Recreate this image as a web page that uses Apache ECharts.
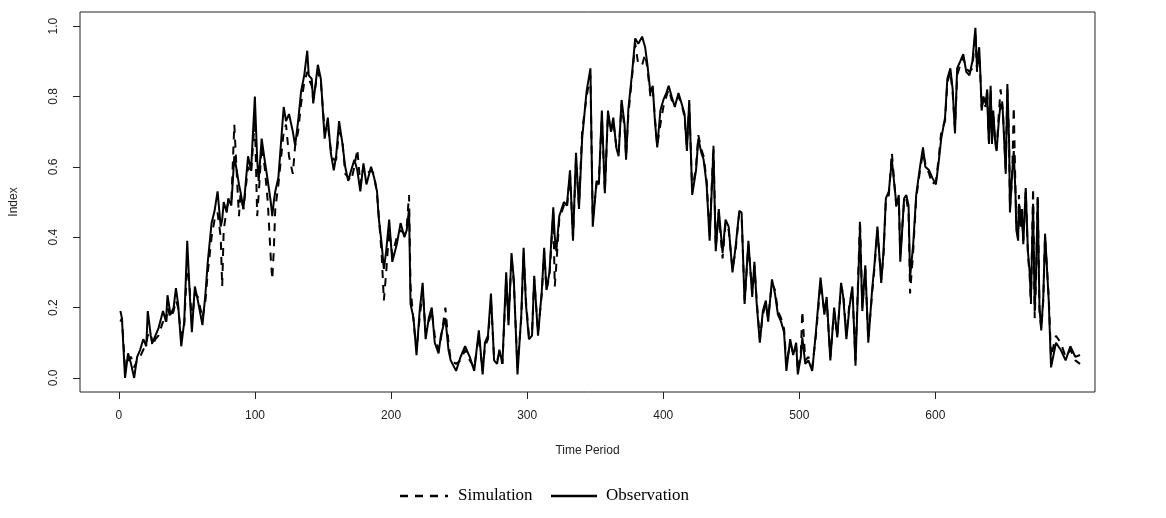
<!DOCTYPE html>
<html>
<head>
<meta charset="utf-8">
<title>Simulation vs Observation</title>
<script src="https://cdn.jsdelivr.net/npm/echarts@6/dist/echarts.min.js"></script>
<style>
  html, body { margin: 0; padding: 0; background: #fff; }
  #chart { width: 1166px; height: 518px; }
</style>
</head>
<body>
<div id="chart"></div>
<script>
// 时间点
const period = [
  1.1, 2.2, 4.5, 6.7, 8.9, 11.2, 13.4, 15.6, 17.9, 20.1,
  21.2, 23.4, 24.6, 26.8, 29.0, 32.4, 34.6, 35.7, 37.9, 40.2,
  41.9, 43.5, 45.8, 48.0, 50.2, 51.9, 53.6, 55.8, 58.0, 61.4,
  63.6, 65.3, 68.1, 70.3, 72.5, 74.8, 75.9, 77.0, 79.2, 80.4,
  82.6, 84.8, 87.0, 88.2, 89.3, 91.5, 94.9, 97.1, 99.9, 101.6,
  102.7, 104.9, 107.1, 109.4, 111.6, 112.7, 113.8, 114.9, 117.2, 121.1,
  122.8, 125.0, 127.8, 129.5, 131.7, 133.9, 136.2, 138.4, 139.5, 141.7,
  142.8, 146.2, 148.4, 151.2, 153.5, 155.7, 157.9, 159.6, 161.8, 164.1,
  166.3, 168.5, 170.7,
  173.0, 175.2, 177.4, 179.7, 181.9, 185.3, 187.5, 189.7, 190.8, 193.1,
  194.7, 196.4, 198.6, 200.9, 204.2, 207.0, 209.8, 211.5, 213.2, 214.3,
  216.5, 218.7, 221.0, 223.2, 225.4, 227.7, 229.9, 232.1, 234.9, 236.6,
  239.9, 242.2, 243.8, 247.8, 251.1, 254.4, 257.8, 261.1, 264.5,
  267.3, 269.0, 271.2, 273.4, 275.7, 277.9, 279.6, 281.8, 284.6, 286.3,
  288.5, 290.2, 292.9, 295.7, 297.4, 299.1, 301.3, 303.6, 305.2, 308.0,
  310.8, 312.5, 314.2, 316.4, 319.2, 320.3, 321.4, 323.6, 327.0, 329.2,
  331.5, 333.7, 335.9, 338.1, 340.4, 343.7, 346.5, 348.2, 351.0, 352.7,
  354.9,
  357.1, 359.4, 361.6, 363.3, 365.5, 367.2, 369.4, 371.6, 372.7, 374.4,
  377.2, 379.4, 381.7, 384.5, 386.7, 388.4, 390.6, 392.3, 393.9, 395.6,
  397.9, 400.1, 402.3, 404.0, 406.2, 408.5, 411.2, 413.5, 415.7, 417.4,
  419.1, 421.3, 424.1, 425.8, 428.0, 429.7, 431.9, 434.1, 436.9, 438.6,
  440.8, 443.6, 445.8,
  448.1, 450.9, 453.1, 455.9, 457.6, 459.8, 462.6, 465.4, 467.0, 468.7,
  471.0, 473.2, 475.4, 477.1, 479.9, 482.1, 484.3, 486.6, 488.8, 490.5,
  493.3, 495.5, 497.7, 498.9, 501.1, 502.2, 504.4, 506.7, 509.5, 512.2,
  515.6, 518.4, 520.1, 522.8, 525.6, 527.9, 530.7, 532.3, 534.6, 536.8,
  539.0,
  541.3, 544.6, 546.3, 548.5, 550.7, 553.5, 555.2, 557.4, 560.2, 561.9,
  563.6, 565.8, 568.0, 571.4, 573.1, 574.2, 577.0, 578.6, 580.3, 581.4,
  583.7, 585.9, 588.7, 590.9, 592.6, 595.4, 597.6, 600.4, 602.6, 604.3,
  607.1, 608.8, 611.0, 612.7, 614.4, 616.0, 618.3, 620.5, 622.7, 625.0,
  627.2, 629.4,
  630.6, 632.2, 633.1, 634.0, 635.3, 636.9, 638.1, 638.8, 639.4, 640.6,
  641.6, 642.5, 644.1, 645.0, 646.6, 647.9, 649.5, 650.7, 651.7, 652.9,
  654.2, 654.8, 656.4, 657.6, 658.9, 659.5, 660.8, 661.4, 662.7, 663.6,
  664.6, 666.4, 668.0, 669.3, 670.2, 671.8, 673.0, 674.0, 675.2, 676.5,
  677.8, 679.3, 680.6, 683.3, 685.0, 688.6, 692.1, 695.7, 699.2, 702.8,
  706.3
]

// 观测值
const observation = [
  .19, .17, .00, .07, .04, .00, .06, .08, .11, .09,
  .19, .12, .10, .12, .14, .19, .16, .235, .18, .20,
  .255, .21, .09, .16, .39, .25, .13, .26, .22, .15,
  .24, .33, .44, .475, .53, .43, .45, .50, .47, .51,
  .49, .63, .58, .55, .53, .48, .63, .59, .80, .62,
  .56, .68, .62, .56, .50, .46, .50, .53, .57, .77,
  .73, .75, .70, .66, .73, .815, .86, .93, .86, .85,
  .78, .89, .85, .68, .74, .64, .59, .63, .73, .67,
  .60, .56, .59,
  .62, .59, .53, .61, .55, .60, .57, .53, .46, .38,
  .31, .36, .45, .33, .38, .44, .40, .42, .48, .21,
  .17, .065, .19, .27, .11, .17, .20, .10, .07, .12,
  .17, .08, .05, .02, .06, .09, .06, .02, .135,
  .01, .10, .12, .24, .05, .04, .08, .04, .30, .15,
  .355, .28, .01, .18, .37, .21, .11, .12, .29, .12,
  .25, .37, .25, .30, .485, .40, .36, .46, .50, .49,
  .59, .39, .64, .48, .68, .815, .88, .43, .56, .55,
  .76,
  .525, .76, .70, .74, .655, .63, .79, .72, .62, .765,
  .87, .965, .95, .97, .94, .89, .81, .83, .73, .655,
  .76, .79, .81, .83, .80, .77, .81, .78, .75, .645,
  .79, .52, .59, .68, .64, .62, .55, .39, .65, .36,
  .48, .355, .45,
  .43, .30, .37, .475, .47, .21, .39, .23, .33, .21,
  .10, .19, .22, .16, .28, .24, .18, .16, .13, .02,
  .11, .065, .10, .01, .06, .115, .04, .05, .02, .13,
  .285, .18, .23, .05, .20, .115, .27, .23, .11, .20,
  .26,
  .035, .43, .19, .32, .10, .25, .32, .43, .27, .36,
  .51, .53, .62, .49, .52, .33, .51, .52, .49, .285,
  .38, .52, .60, .655, .60, .59, .57, .55, .62, .68,
  .74, .85, .88, .82, .695, .88, .90, .92, .87, .86,
  .90, .995,
  .88, .94, .86, .76, .80, .78, .82, .71, .665, .83,
  .665, .76, .665, .645, .73, .78, .76, .665, .58, .835,
  .665, .47, .58, .645, .52, .42, .39, .495, .44, .48,
  .38, .54, .36, .30, .22, .495, .19, .30, .51, .20,
  .135, .23, .41, .22, .03, .10, .08, .05, .09, .06,
  .065
]

// 模拟值
const simulation = [
  .16, .17, .03, .05, .06, .03, .05, .06, .08, .10,
  .12, .13, .09, .11, .12, .16, .15, .20, .17, .19,
  .22, .20, .12, .15, .33, .26, .16, .24, .23, .17,
  .22, .30, .40, .45, .47, .40, .26, .42, .48, .50,
  .50, .72, .55, .46, .52, .48, .60, .58, .74, .46,
  .52, .66, .60, .50, .34, .28, .36, .48, .55, .70,
  .72, .63, .58, .66, .70, .78, .84, .87, .85, .83,
  .79, .87, .84, .70, .72, .65, .62, .62, .70, .68,
  .58, .57, .56,
  .60, .65, .55, .60, .58, .59, .58, .52, .47, .35,
  .22, .30, .42, .35, .40, .42, .41, .43, .52, .26,
  .16, .08, .17, .25, .13, .16, .19, .12, .08, .11,
  .20, .10, .05, .04, .05, .08, .05, .03, .12,
  .02, .09, .11, .22, .06, .05, .07, .04, .28, .16,
  .34, .27, .03, .17, .36, .22, .12, .13, .28, .13,
  .24, .36, .25, .29, .47, .26, .32, .45, .49, .48,
  .58, .40, .62, .49, .70, .80, .86, .45, .55, .56,
  .74,
  .53, .75, .70, .73, .66, .64, .78, .71, .63, .75,
  .86, .95, .89, .89, .92, .88, .80, .82, .74, .66,
  .72, .77, .80, .82, .79, .78, .80, .78, .74, .66,
  .78, .53, .60, .69, .65, .63, .56, .40, .66, .37,
  .47, .34, .44,
  .42, .31, .36, .47, .46, .22, .38, .24, .32, .22,
  .11, .18, .21, .17, .27, .25, .19, .17, .14, .04,
  .10, .07, .09, .02, .07, .19, .05, .06, .03, .12,
  .27, .19, .22, .06, .19, .12, .26, .24, .12, .21,
  .25,
  .05, .45, .20, .31, .11, .24, .31, .42, .28, .35,
  .50, .52, .64, .48, .51, .35, .50, .51, .47, .24,
  .36, .51, .59, .64, .61, .58, .55, .56, .63, .70,
  .73, .84, .87, .81, .71, .86, .89, .91, .88, .87,
  .88, .98,
  .87, .92, .85, .77, .79, .77, .81, .72, .67, .82,
  .68, .75, .66, .65, .75, .82, .77, .67, .59, .82,
  .67, .48, .57, .77, .53, .44, .40, .52, .43, .47,
  .39, .53, .35, .29, .21, .54, .17, .28, .52, .19,
  .14, .22, .40, .23, .06, .12, .10, .06, .08, .05,
  .04
]

const xTicks = [0, 100, 200, 300, 400, 500, 600]
const yTicks = [0, 0.2, 0.4, 0.6, 0.8, 1.0]

const axisFont = { fontFamily: 'Liberation Sans', fontSize: 12, color: '#222' }
const legendFont = { fontFamily: 'Liberation Serif', fontSize: 17, fill: '#000' }
/** R 的 lty=2 虚线 */
const dash = [8, 7]

const chart = echarts.init(document.getElementById('chart'), null, { renderer: 'canvas' })

const option = {
  animation: false,
  backgroundColor: '#fff',
  grid: {
    left: 79,
    right: 71,
    top: 12,
    bottom: 126,
    show: true,
    borderColor: '#222',
    borderWidth: 1,
    backgroundColor: 'transparent',
  },
  xAxis: {
    type: 'value',
    min: -28.6,
    max: 717.3,
    name: 'Time Period',
    nameLocation: 'middle',
    nameGap: 53,
    nameTextStyle: axisFont,
    axisLine: { show: false, onZero: false },
    axisTick: { show: true, inside: false, length: 7, customValues: xTicks, lineStyle: { color: '#222' } },
    axisLabel: { ...axisFont, margin: 18, customValues: xTicks },
    splitLine: { show: false },
  },
  yAxis: {
    type: 'value',
    min: -0.04,
    max: 1.04,
    name: 'Index',
    nameLocation: 'middle',
    nameRotate: 90,
    nameGap: 60,
    nameTextStyle: axisFont,
    axisLine: { show: false, onZero: false },
    axisTick: { show: true, inside: false, length: 7, customValues: yTicks, lineStyle: { color: '#222' } },
    axisLabel: {
      ...axisFont,
      rotate: 90,
      margin: 20,
      customValues: yTicks,
      formatter: (v) => v.toFixed(1),
    },
    splitLine: { show: false },
  },
  // 图例用 graphic 画，和原图一样只有线段没有点
  graphic: [
    { type: 'line', shape: { x1: 400, y1: 496, x2: 448, y2: 496 }, style: { stroke: '#000', lineWidth: 2.5, lineDash: dash } },
    { type: 'text', x: 458, y: 496, style: { ...legendFont, text: 'Simulation', verticalAlign: 'middle' } },
    { type: 'line', shape: { x1: 551, y1: 496, x2: 597, y2: 496 }, style: { stroke: '#000', lineWidth: 2.5 } },
    { type: 'text', x: 606, y: 496, style: { ...legendFont, text: 'Observation', verticalAlign: 'middle' } },
  ],
  series: [
    {
      name: 'Simulation',
      type: 'line',
      symbol: 'none',
      lineStyle: { color: '#000', width: 2, type: dash },
      data: period.map((t, i) => [t, simulation[i]]),
      z: 2,
    },
    {
      name: 'Observation',
      type: 'line',
      symbol: 'none',
      lineStyle: { color: '#000', width: 2 },
      data: period.map((t, i) => [t, observation[i]]),
      z: 3,
    },
  ],
}

chart.setOption(option)
</script>
</body>
</html>
